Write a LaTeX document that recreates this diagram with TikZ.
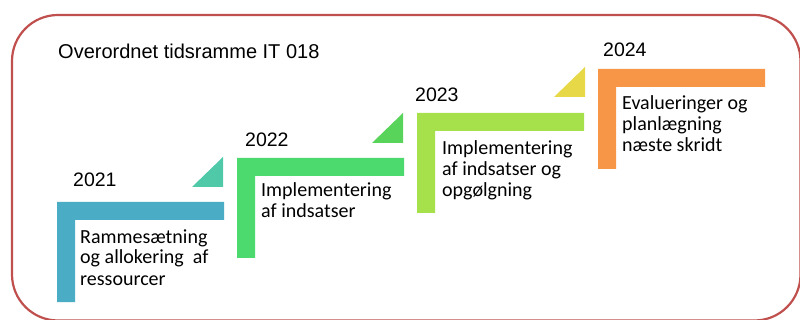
\documentclass[tikz,border=0pt]{standalone}
\usepackage{fontspec}
\setmainfont{Liberation Sans}
\newfontfamily\bodyfont{Carlito}
\definecolor{FrameRed}{HTML}{C0504D}
\definecolor{StepBlue}{HTML}{4BACC6}
\definecolor{StepTeal}{HTML}{4FC9A8}
\definecolor{StepGreen}{HTML}{4CD96E}
\definecolor{StepGreenTri}{HTML}{59D45A}
\definecolor{StepLime}{HTML}{A6E04A}
\definecolor{StepYellow}{HTML}{E6D846}
\definecolor{StepOrange}{HTML}{F79646}
\begin{document}
\begin{tikzpicture}[x=1pt,y=-1pt,
  yearlabel/.style={anchor=base west,inner sep=0pt,font=\fontsize{19.5}{22}\selectfont},
  steptext/.style={anchor=base west,inner sep=0pt,align=left,font=\bodyfont\fontsize{20}{21}\selectfont}]
\useasboundingbox (0,0) rectangle (800,320);
\clip (0,0) rectangle (800,320);
\draw[FrameRed,line width=2.2pt,rounded corners=46pt] (12,15) rectangle (800.5,320.5);
\node[yearlabel,font=\fontsize{20}{22}\selectfont] (title) at (58,59) {Overordnet tidsramme IT 018};
% trin
\foreach \x/\y/\c in %
{57/202/StepBlue,237/158/StepGreen,417/113/StepLime,598/69/StepOrange} {
   \fill[\c] (\x,\y) -- ++(167,0) -- ++(0,18) -- ++(-149,0) -- ++(0,82) -- ++(-18,0) -- cycle;
}
\foreach \x/\y/\c in %
{223/187/StepTeal,403/143/StepGreenTri,585/97/StepYellow} {
   \fill[\c] (\x,\y) -- ++(-31,0) -- ++(31,-30) -- cycle;
}
\node[yearlabel] (y2021) at (73,187) {2021};
\node[yearlabel] (y2022) at (245,147) {2022};
\node[yearlabel] (y2023) at (415,102) {2023};
\node[yearlabel] (y2024) at (603,57) {2024};
% grundlinje for sidste linje
\node[steptext] (t2021) at (80,285) {Rammesætning\\og allokering~ af\\ressourcer};
\node[steptext] (t2022) at (261,218) {Implementering\\af indsatser};
\node[steptext] (t2023) at (442,197) {Implementering\\af indsatser og\\opgølgning};
\node[steptext] (t2024) at (622,152) {Evalueringer og\\planlægning\\næste skridt};
\end{tikzpicture}
\end{document}
